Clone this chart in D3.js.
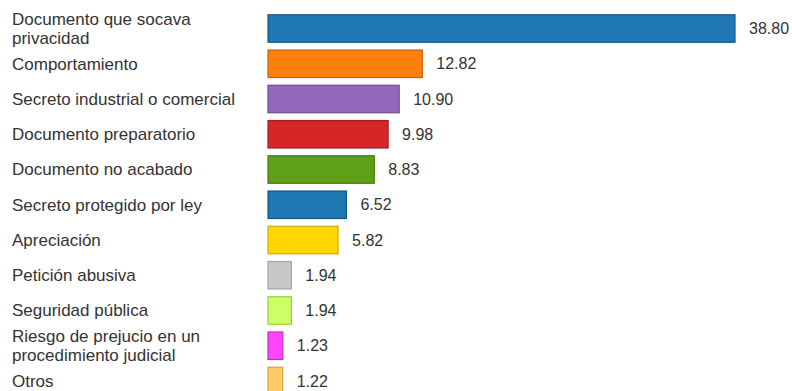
<!DOCTYPE html>
<html>
<head>
<meta charset="utf-8">
<script src="https://cdn.jsdelivr.net/npm/d3@7"></script>
<style>
  html, body { margin: 0; padding: 0; background: #fff; }
  svg { display: block; }
  text { font-family: "Liberation Sans", Arial, Helvetica, sans-serif; fill: #333; }
</style>
</head>
<body>
<svg id="chart" width="792" height="391"></svg>
<script>
// Motivos de reserva (%)
const categories = [
  ["Documento que socava", "privacidad"],
  ["Comportamiento"],
  ["Secreto industrial o comercial"],
  ["Documento preparatorio"],
  ["Documento no acabado"],
  ["Secreto protegido por ley"],
  ["Apreciación"],
  ["Petición abusiva"],
  ["Seguridad pública"],
  ["Riesgo de prejucio en un", "procedimiento judicial"],
  ["Otros"]
];
const values = [38.80, 12.82, 10.90, 9.98, 8.83, 6.52, 5.82, 1.94, 1.94, 1.23, 1.22];
const valueLabels = ["38.80", "12.82", "10.90", "9.98", "8.83", "6.52", "5.82", "1.94", "1.94", "1.23", "1.22"];
const fills = ["#1f77b4", "#ff7f0e", "#9467bd", "#d62728", "#5fa116", "#1f77b4", "#ffd700", "#c8c8c8", "#ccff66", "#ff44ff", "#ffcc66"];
const strokes = ["#145a8c", "#c8600a", "#6f4a94", "#a51d1e", "#457a0e", "#145a8c", "#d1ab00", "#a5a5a5", "#9ccc44", "#c02ec0", "#d6a440"];

const svg = d3.select("#chart");
const x0 = 268;
const x = d3.scaleLinear().domain([0, 38.80]).range([x0, 735]);
const idx = d3.range(values.length);
const y = d3.scaleBand().domain(idx).range([10.9, 398.6]).paddingInner(0.22).paddingOuter(0.11);

const row = svg.selectAll("g.row").data(idx).join("g").attr("class", "row");

row.append("rect")
  .attr("x", x(0))
  .attr("y", i => y(i))
  .attr("width", i => x(values[i]) - x(0))
  .attr("height", y.bandwidth())
  .attr("fill", i => fills[i])
  .attr("stroke", i => strokes[i])
  .attr("stroke-width", 1.2);

row.append("text")
  .attr("x", i => x(values[i]) + 14)
  .attr("y", i => y(i) + y.bandwidth() / 2)
  .attr("dy", "0.35em")
  .attr("font-size", 16)
  .text(i => valueLabels[i]);

const lineH = 19;
row.append("text")
  .attr("font-size", 17)
  .each(function (i) {
    const lines = categories[i];
    const cy = y(i) + y.bandwidth() / 2;
    const start = cy - (lines.length - 1) * lineH / 2;
    d3.select(this).selectAll("tspan").data(lines).join("tspan")
      .attr("x", 12)
      .attr("y", (d, k) => start + k * lineH)
      .attr("dy", "0.35em")
      .text(d => d);
  });
</script>
</body>
</html>
